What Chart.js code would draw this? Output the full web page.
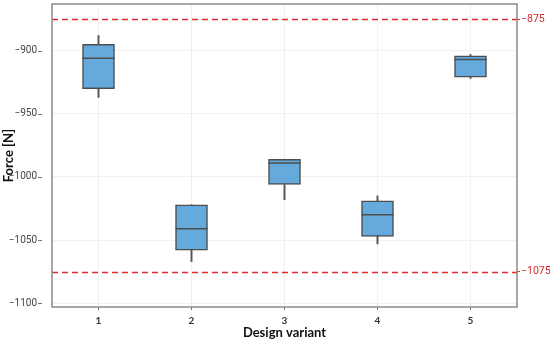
<!DOCTYPE html>
<html>
<head>
<meta charset="utf-8">
<script src="https://cdn.jsdelivr.net/npm/chart.js@4/dist/chart.umd.min.js"></script>
<style>
html,body{margin:0;padding:0;background:#fff;}
#wrap{width:550px;height:344px;position:relative;}
</style>
</head>
<body>
<div id="wrap"><canvas id="c" width="550" height="344"></canvas></div>
<script>
const categories = ['1', '2', '3', '4', '5'];
const whiskerLow  = [-937, -1067, -1018, -1053, -922];
const q1          = [-930, -1058, -1006, -1047, -921];
const median      = [-906, -1041, -989, -1030, -907];
const q3          = [-895, -1022, -986, -1019, -904];
const whiskerHigh = [-888, -1022, -986, -1015, -903];
const limits = [-875, -1075];
const yTicks = [-1100, -1050, -1000, -950, -900];

const minus = v => String(v).replace('-', '\u2212');

const frame = {
  id: 'frame',
  beforeDatasetsDraw(chart) {
    const {ctx, chartArea: a, scales: {y}} = chart;
    ctx.save();
    ctx.strokeStyle = '#e8262a';
    ctx.lineWidth = 1.3;
    ctx.setLineDash([6, 4]);
    limits.forEach(v => {
      const py = Math.round(y.getPixelForValue(v)) + 0.5;
      ctx.beginPath();
      ctx.moveTo(a.left, py);
      ctx.lineTo(a.right, py);
      ctx.stroke();
    });
    ctx.restore();
  },
  afterDraw(chart) {
    const {ctx, chartArea: a, scales: {y}} = chart;
    ctx.save();
    ctx.strokeStyle = '#8a8a8a';
    ctx.lineWidth = 1.5;
    ctx.strokeRect(a.left, a.top, a.right - a.left, a.bottom - a.top);
    ctx.strokeStyle = '#777';
    ctx.lineWidth = 1;
    yTicks.forEach(v => {
      const py = Math.round(y.getPixelForValue(v)) + 0.5;
      ctx.beginPath();
      ctx.moveTo(a.left - 14, py);
      ctx.lineTo(a.left - 10, py);
      ctx.stroke();
    });
    ctx.restore();
  }
};

const noPad = s => { s.paddingTop = 0; s.paddingBottom = 0; s.paddingLeft = 0; s.paddingRight = 0; };

new Chart(document.getElementById('c'), {
  type: 'bar',
  data: {
    labels: categories,
    datasets: [
      {
        type: 'line',
        data: median,
        showLine: false,
        pointStyle: 'line',
        pointRadius: 16,
        pointHoverRadius: 16,
        borderColor: '#4d4d4d',
        pointBorderWidth: 1.5,
        order: 0
      },
      {
        data: categories.map((c, i) => [q1[i], q3[i]]),
        backgroundColor: '#66aadd',
        borderColor: '#4d4d4d',
        borderWidth: 1.5,
        borderSkipped: false,
        barThickness: 32,
        grouped: false,
        order: 1
      },
      {
        data: categories.map((c, i) => [whiskerLow[i], q1[i]]),
        backgroundColor: '#555',
        borderWidth: 0,
        barThickness: 1.3,
        grouped: false,
        order: 2
      },
      {
        data: categories.map((c, i) => [q3[i], whiskerHigh[i]]),
        backgroundColor: '#555',
        borderWidth: 0,
        barThickness: 1.3,
        grouped: false,
        order: 2
      }
    ]
  },
  options: {
    responsive: false,
    animation: false,
    events: [],
    layout: { autoPadding: false, padding: { top: 4, left: 0, right: 0, bottom: 0 } },
    plugins: { legend: { display: false }, tooltip: { enabled: false } },
    scales: {
      x: {
        offset: true,
        grid: { offset: false, color: '#f0f0f0', lineWidth: 1, tickLength: 3, tickColor: '#777' },
        border: { display: false },
        ticks: { color: '#333', font: { family: 'Lato', size: 10, weight: 'bold' }, padding: 5 },
        title: { display: true, text: 'Design variant', color: '#111', font: { family: 'Lato', size: 13, weight: 'bold' }, padding: { top: 0, bottom: 3 } },
        afterFit(s) { s.height = 37; noPad(s); }
      },
      y: {
        position: 'left',
        min: -1103,
        max: -863,
        afterBuildTicks(s) { s.ticks = yTicks.map(v => ({ value: v })); },
        grid: { color: '#f0f0f0', lineWidth: 1, drawTicks: false },
        border: { display: false },
        ticks: { color: '#444', font: { family: 'Roboto', size: 10 }, padding: 15, callback: v => minus(v) },
        title: { display: true, text: 'Force [N]', color: '#111', font: { family: 'Lato', size: 13, weight: 'bold' }, padding: { top: 1, bottom: 0 } },
        afterFit(s) { s.width = 52; noPad(s); }
      },
      y2: {
        position: 'right',
        min: -1103,
        max: -863,
        afterBuildTicks(s) { s.ticks = limits.map(v => ({ value: v })); },
        grid: { drawOnChartArea: false, tickLength: 3, tickColor: '#e8262a' },
        border: { display: false },
        ticks: { color: '#d42a2a', font: { family: 'Roboto', size: 10.5 }, padding: 1, callback: v => minus(v) },
        afterFit(s) { s.width = 33; noPad(s); }
      }
    }
  },
  plugins: [frame]
});
</script>
</body>
</html>
